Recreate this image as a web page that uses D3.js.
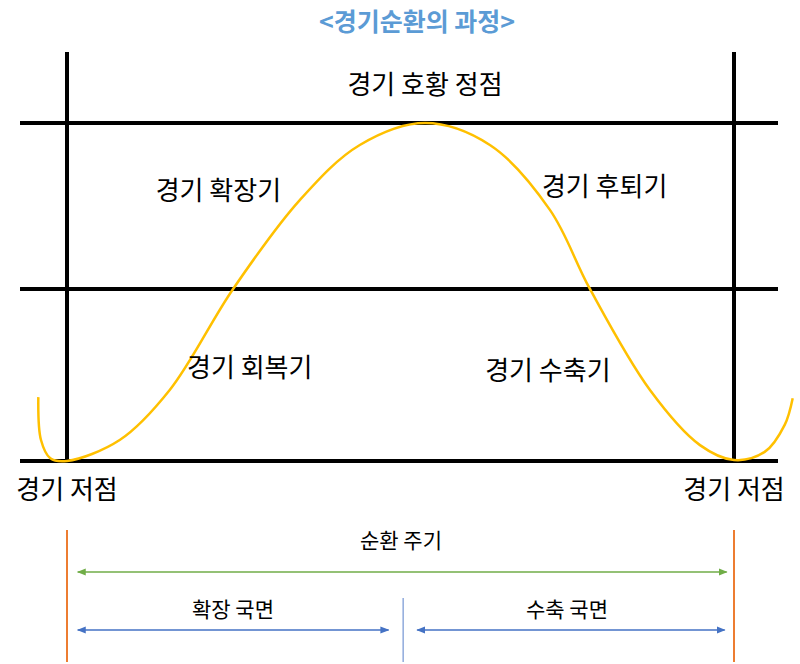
<!DOCTYPE html>
<html><head><meta charset="utf-8">
<script src="https://cdn.jsdelivr.net/npm/d3@7"></script>
<style>body{margin:0;background:#fff}text{font-family:"Noto Sans CJK KR","Noto Sans",sans-serif}</style>
</head><body><div id="chart"></div>
<script>
// Cycle curve: time (0 = first trough, 100 = next trough) vs activity level (0 = trough, 100 = peak)
const cycleTime  = [-4.3, -3.9, -2.5, 0, 7.9, 15.4, 24.9, 34.9, 43.9, 53.7, 63.4, 72.4, 78.4, 87.4, 94.9, 100, 104.6, 107.6, 108.8];
const cycleLevel = [18.9, 6.2, 0.8, 0, 6.2, 21, 50.9, 77.2, 93.5, 100, 93.5, 74.3, 50.9, 21, 4.7, 0.3, 2.7, 10.7, 18.6];
const gridLevels = [0, 50.9, 100];
const troughTimes = [0, 100];
const phaseLabels = ["경기 확장기", "경기 후퇴기", "경기 회복기", "경기 수축기"];
const phaseTime = [22.7, 80.6, 27.4, 72.1];
const phaseLevel = [80, 81, 27.5, 26.6];

const svg = d3.select("#chart").append("svg").attr("width", 800).attr("height", 664);
const x = d3.scaleLinear().domain([0, 100]).range([67, 734]);
const y = d3.scaleLinear().domain([0, 100]).range([461, 123]);

// title
svg.append("text").attr("x", 417).attr("y", 31).attr("text-anchor", "middle")
    .attr("font-size", 25).attr("font-weight", "bold").attr("fill", "#5b9bd5").text("<경기순환의 과정>");

// grid
svg.selectAll(".h").data(gridLevels).enter().append("line")
    .attr("x1", 20).attr("x2", 778).attr("y1", d => y(d)).attr("y2", d => y(d))
    .attr("stroke", "#000").attr("stroke-width", 4);
svg.selectAll(".v").data(troughTimes).enter().append("line")
    .attr("x1", d => x(d)).attr("x2", d => x(d)).attr("y1", 52).attr("y2", y(0))
    .attr("stroke", "#000").attr("stroke-width", 4);

// curve
const pts = cycleTime.map((t, i) => [t, cycleLevel[i]]);
svg.append("path").datum(pts)
    .attr("d", d3.line().x(d => x(d[0])).y(d => y(d[1])).curve(d3.curveCatmullRom.alpha(0.5)))
    .attr("fill", "none").attr("stroke", "#ffc000").attr("stroke-width", 2.5);

// labels
svg.append("text").attr("x", 425).attr("y", 94).attr("text-anchor", "middle").attr("font-size", 26).text("경기 호황 정점");
svg.selectAll(".pl").data(phaseLabels).enter().append("text")
    .attr("x", (d, i) => x(phaseTime[i])).attr("y", (d, i) => y(phaseLevel[i]) + 9)
    .attr("text-anchor", "middle").attr("font-size", 26).text(d => d);
svg.selectAll(".tl").data(troughTimes).enter().append("text")
    .attr("x", d => x(d)).attr("y", 499).attr("text-anchor", "middle").attr("font-size", 26).text("경기 저점");

// bottom period annotations
const defs = svg.append("defs");
function marker(id, color) {
  defs.append("marker").attr("id", id).attr("viewBox", "0 0 10 10").attr("refX", 9).attr("refY", 5)
    .attr("markerWidth", 6).attr("markerHeight", 6).attr("orient", "auto-start-reverse")
    .append("path").attr("d", "M0,1L10,5L0,9Z").attr("fill", color);
}
marker("ag", "#70ad47"); marker("ab", "#4472c4");
svg.selectAll(".ov").data(troughTimes).enter().append("line")
    .attr("x1", d => x(d)).attr("x2", d => x(d)).attr("y1", 530).attr("y2", 662)
    .attr("stroke", "#ed7d31").attr("stroke-width", 2);
svg.append("line").attr("x1", x(50.4)).attr("x2", x(50.4)).attr("y1", 598).attr("y2", 662)
    .attr("stroke", "#8faadc").attr("stroke-width", 1.5);
function arrow(t0, t1, yy, id, color) {
  svg.append("line").attr("x1", x(t0)).attr("x2", x(t1)).attr("y1", yy).attr("y2", yy)
    .attr("stroke", color).attr("stroke-width", 1.5)
    .attr("marker-start", `url(#${id})`).attr("marker-end", `url(#${id})`);
}
arrow(1.6, 98.9, 572, "ag", "#70ad47");
arrow(1.6, 48.2, 630, "ab", "#4472c4");
arrow(52.5, 98.6, 630, "ab", "#4472c4");
svg.append("text").attr("x", 401).attr("y", 548).attr("text-anchor", "middle").attr("font-size", 21).text("순환 주기");
svg.append("text").attr("x", 233).attr("y", 617).attr("text-anchor", "middle").attr("font-size", 21).text("확장 국면");
svg.append("text").attr("x", 567).attr("y", 617).attr("text-anchor", "middle").attr("font-size", 21).text("수축 국면");
</script></body></html>
